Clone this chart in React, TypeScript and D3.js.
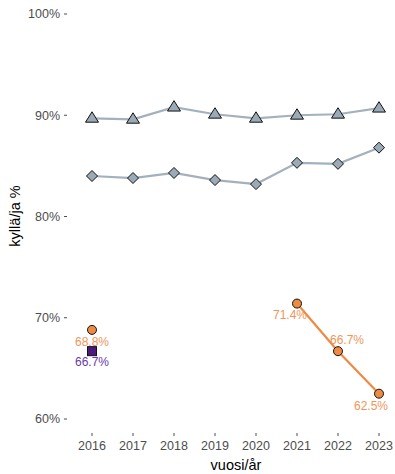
import React from "react";
import * as d3 from "d3";

const years = [2016, 2017, 2018, 2019, 2020, 2021, 2022, 2023];
const triangleSeries = [89.7, 89.6, 90.8, 90.1, 89.7, 90.0, 90.1, 90.7];
const diamondSeries = [84.0, 83.8, 84.3, 83.6, 83.2, 85.3, 85.2, 86.8];
const orangeYears = [2016, 2021, 2022, 2023];
const orangeSeries = [68.8, 71.4, 66.7, 62.5];
const purpleYears = [2016];
const purpleSeries = [66.7];
const yTicks = [60, 70, 80, 90, 100];

const W = 395, H = 474;
const grey = "#a3b1bd";
const greyFill = "#9aabb7";
const orange = "#ef8a43";
const orangeText = "#f0955a";
const purple = "#4a1a7e";
const purpleText = "#6a3aa8";

export default function App() {
  const x = d3.scalePoint<number>().domain(years).range([92, 379]);
  const y = d3.scaleLinear().domain([60, 100]).range([419, 14]);
  const line = d3.line<[number, number]>().x(d => x(d[0])!).y(d => y(d[1]));

  const tri = (cx: number, cy: number) => {
    const s = 6.5;
    return `M${cx},${cy - s}L${cx + s},${cy + s * 0.6}L${cx - s},${cy + s * 0.6}Z`;
  };
  const dia = (cx: number, cy: number) => {
    const s = 5.5;
    return `M${cx},${cy - s}L${cx + s},${cy}L${cx},${cy + s}L${cx - s},${cy}Z`;
  };

  const orangeConnected: [number, number][] = orangeYears
    .map((yr, i) => [yr, orangeSeries[i]] as [number, number])
    .filter(d => d[0] >= 2021);

  const labelOffsets: Record<number, [number, number]> = {
    2016: [0, 12],
    2021: [-7, 11],
    2022: [9, -11],
    2023: [-8, 12],
  };

  return (
    <svg width={W} height={H} style={{ position: "absolute", left: 0, top: 0, fontFamily: "Liberation Sans, Arial, sans-serif" }}>
      <rect width={W} height={H} fill="white" />
      {yTicks.map(t => (
        <g key={t}>
          <text x={60} y={y(t)} dy="0.35em" textAnchor="end" fontSize={12.5} fill="#4d4d4d">{t}%</text>
          <line x1={64} x2={67} y1={y(t)} y2={y(t)} stroke="#4d4d4d" strokeWidth={1} />
        </g>
      ))}
      {years.map(yr => (
        <g key={yr}>
          <line x1={x(yr)} x2={x(yr)} y1={433} y2={436} stroke="#4d4d4d" strokeWidth={1} />
          <text x={x(yr)} y={450} textAnchor="middle" fontSize={12.5} fill="#4d4d4d">{yr}</text>
        </g>
      ))}
      <text x={236} y={470} textAnchor="middle" fontSize={14.5} fill="#000">vuosi/år</text>
      <text transform={`translate(20,${216}) rotate(-90)`} textAnchor="middle" fontSize={14.5} fill="#000">kyllä/ja %</text>

      <path d={line(years.map((yr, i) => [yr, triangleSeries[i]]))!} fill="none" stroke={grey} strokeWidth={2.2} />
      <path d={line(years.map((yr, i) => [yr, diamondSeries[i]]))!} fill="none" stroke={grey} strokeWidth={2.2} />
      {years.map((yr, i) => (
        <path key={"t" + yr} d={tri(x(yr)!, y(triangleSeries[i]))} fill={greyFill} stroke="#111" strokeWidth={1} />
      ))}
      {years.map((yr, i) => (
        <path key={"d" + yr} d={dia(x(yr)!, y(diamondSeries[i]))} fill={greyFill} stroke="#111" strokeWidth={1} />
      ))}

      <path d={line(orangeConnected)!} fill="none" stroke={orange} strokeWidth={2.2} />
      {orangeYears.map((yr, i) => (
        <circle key={"o" + yr} cx={x(yr)} cy={y(orangeSeries[i])} r={4.5} fill={orange} stroke="#111" strokeWidth={1} />
      ))}
      {purpleYears.map((yr, i) => (
        <rect key={"p" + yr} x={x(yr)! - 4.5} y={y(purpleSeries[i]) - 4.5} width={9} height={9} fill={purple} stroke="#111" strokeWidth={1} />
      ))}

      {orangeYears.map((yr, i) => {
        const [dx, dy] = labelOffsets[yr];
        return (
          <text key={"ol" + yr} x={x(yr)! + dx} y={y(orangeSeries[i]) + dy} dy="0.35em" textAnchor="middle" fontSize={12} fill={orangeText}>
            {orangeSeries[i].toFixed(1)}%
          </text>
        );
      })}
      {purpleYears.map((yr, i) => (
        <text key={"pl" + yr} x={x(yr)} y={y(purpleSeries[i]) + 11} dy="0.35em" textAnchor="middle" fontSize={12} fill={purpleText}>
          {purpleSeries[i].toFixed(1)}%
        </text>
      ))}
    </svg>
  );
}
